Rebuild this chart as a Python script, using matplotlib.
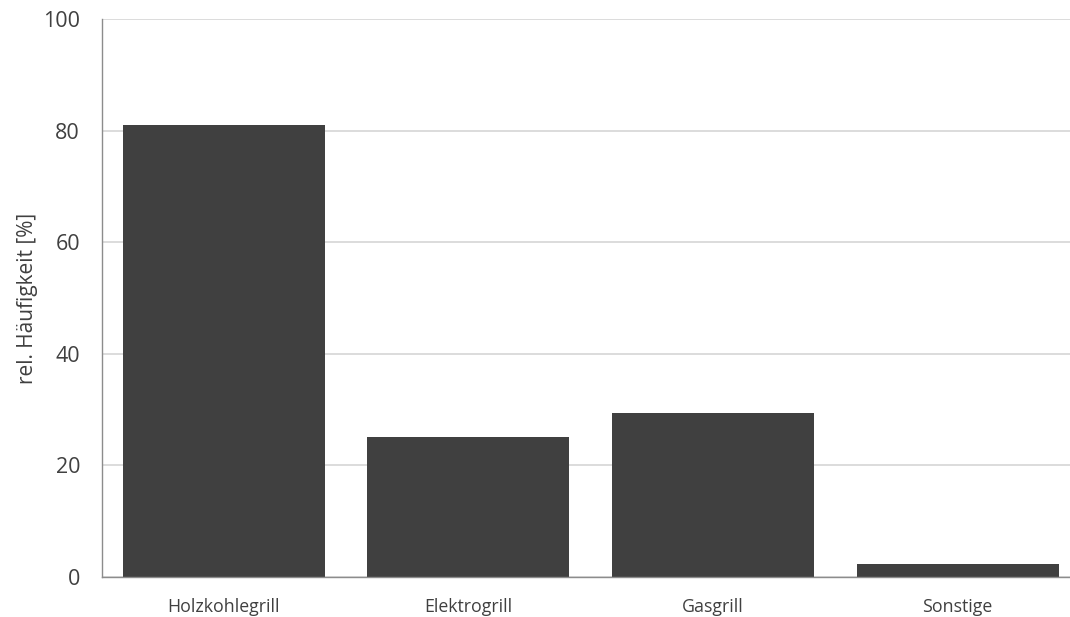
import matplotlib.pyplot as plt

categories = ["Holzkohlegrill", "Elektrogrill", "Gasgrill", "Sonstige"]
values = [81.0, 25.0, 29.3, 2.2]
yticks = [0, 20, 40, 60, 80, 100]

plt.rcParams["font.family"] = ["Open Sans", "DejaVu Sans"]

fig = plt.figure(figsize=(10.7, 6.17), dpi=100)
ax = fig.add_axes([0.095, 0.0653, 0.905, 0.9034])

ax.bar(range(len(categories)), values, width=0.826, color="#404040", zorder=3)

ax.set_xlim(-0.5, 3.46)
ax.set_ylim(0, 100)
ax.set_yticks(yticks)
ax.set_xticks(range(len(categories)))
ax.set_xticklabels(categories, fontsize=12.8, color="#404040")
ax.tick_params(axis="y", labelsize=15.5, colors="#404040", length=0, pad=15.5)
ax.tick_params(axis="x", length=0, pad=15.5)
ax.grid(axis="y", color="#d9d9d9", linewidth=1.3, zorder=0)

for side in ["top", "right"]:
    ax.spines[side].set_visible(False)
for side in ["left", "bottom"]:
    ax.spines[side].set_color("#8c8c8c")
    ax.spines[side].set_linewidth(1.0)
ax.spines["bottom"].set_zorder(4)

ax.set_ylabel("rel. Häufigkeit [%]", fontsize=15, color="#404040", labelpad=4)

fig.savefig("out.png", dpi=100)
